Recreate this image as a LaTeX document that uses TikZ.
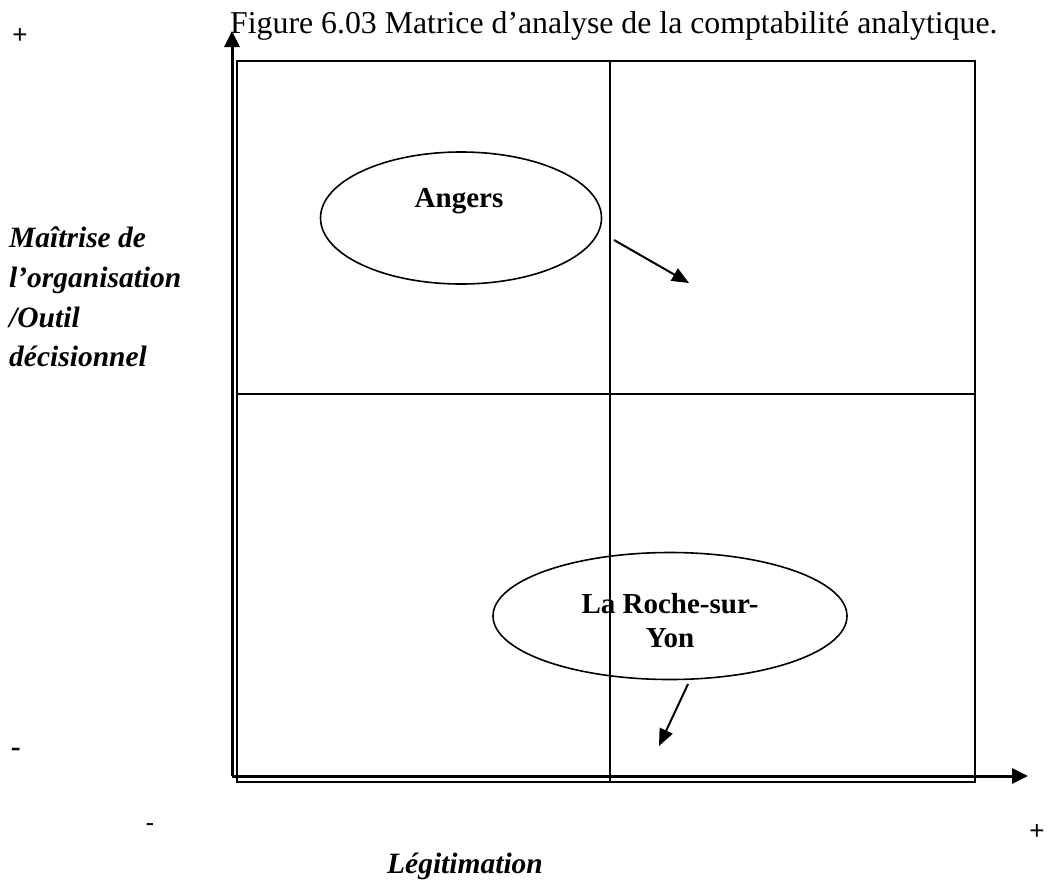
\documentclass[tikz,border=0pt]{standalone}
\usepackage{fontspec}
\setmainfont{Liberation Serif}
\setsansfont{Liberation Sans}
\usepackage{tikz}
\usetikzlibrary{arrows.meta,positioning,shapes.geometric}
\tikzset{
  matrix-frame/.style={draw=black, line width=2pt},
  matrix-axis/.style={draw=black, line width=3pt, -{Triangle[length=16pt,width=15pt]}},
  site-ellipse/.style={ellipse, draw=black, line width=1.6pt, inner sep=0pt},
  site-text/.style={font=\fontsize{29}{33}\selectfont\bfseries, align=center, inner sep=0pt},
  trend-arrow/.style={draw=black, line width=2pt, -{Triangle[length=17pt,width=14pt]}},
  axis-label/.style={font=\fontsize{29.5}{39.7}\selectfont\bfseries\itshape, align=left, inner sep=0pt},
  axis-sign/.style={font=\sffamily\fontsize{26}{30}\selectfont, inner sep=0pt}
}

\begin{document}
\begin{tikzpicture}[x=1pt, y=-1pt]
  \useasboundingbox (0,0) rectangle (1051,881);

  % Title
  \node[font=\fontsize{31.8}{36}\selectfont, anchor=base west, inner sep=0pt] (title) at (230,33)
    {Figure 6.03 Matrice d’analyse de la comptabilité analytique.};

  % Quadrant frame
  \coordinate (frameNW) at (237,61);
  \coordinate (frameSE) at (975,782);
  \draw[matrix-frame] (frameNW) rectangle (frameSE);
  \draw[matrix-frame] (610,61) -- (610,782);
  \draw[matrix-frame] (237,394) -- (975,394);

  % Axes
  \coordinate (origin) at (232,776);
  \coordinate (ytip) at (232,31);
  \coordinate (xtip) at (1028,776);
  \draw[matrix-axis] (origin) -- (ytip);
  \draw[matrix-axis] (origin) -- (xtip);

  % Angers
  \node[site-ellipse, minimum width=281pt, minimum height=132pt] (angers) at (461,218) {};
  \node[site-text, anchor=base] (angers-text) at (459,207) {Angers};

  % La Roche-sur-Yon
  \node[site-ellipse, minimum width=354pt, minimum height=127pt] (laroche) at (670,616) {};
  \node[site-text, anchor=base] (laroche-text) at (670,613) {La Roche-sur-};
  \node[site-text, anchor=base] (laroche-text2) at (670,647) {Yon};

  % Movements
  \coordinate (angersFrom) at (614,240);
  \coordinate (angersTo) at (689,283);
  \draw[trend-arrow] (angersFrom) -- (angersTo);
  \coordinate (larocheFrom) at (688,684);
  \coordinate (larocheTo) at (659,746);
  \draw[trend-arrow] (larocheFrom) -- (larocheTo);

  % Axis labels
  \node[axis-label, anchor=base west] (ylabel1) at (9,247) {Maîtrise de};
  \node[axis-label, anchor=base west] (ylabel2) at (9,287) {l’organisation};
  \node[axis-label, anchor=base west] (ylabel3) at (9,327) {/Outil};
  \node[axis-label, anchor=base west] (ylabel4) at (9,366) {décisionnel};
  \node[axis-label, anchor=base] (xlabel) at (465,873) {Légitimation};

  % Signs
  \node[axis-sign] (yplus) at (20,36) {+};
  \node[axis-label] (yminus) at (16,752) {-};
  \node[axis-sign] (xminus) at (150,828) {-};
  \node[axis-sign] (xplus) at (1037,832) {+};
\end{tikzpicture}
\end{document}
